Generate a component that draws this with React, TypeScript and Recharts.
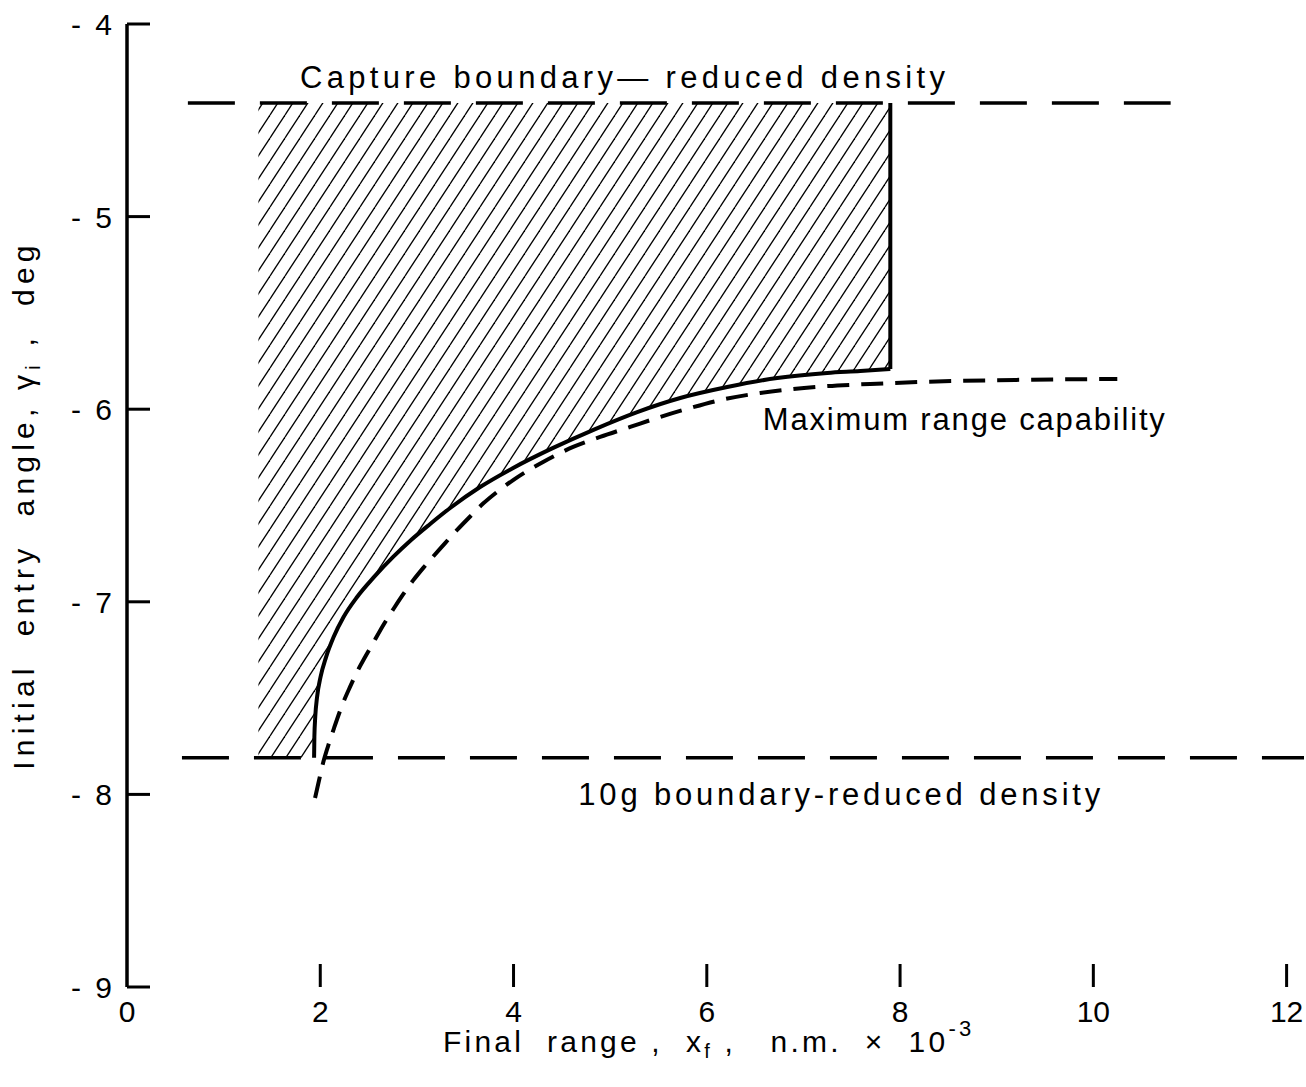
import { ComposedChart, Line, Area, XAxis, YAxis, ReferenceDot, Label } from "recharts";

const FONT = "'Liberation Sans', Arial, sans-serif";

const xTicks = [0, 2, 4, 6, 8, 10, 12];
const yTicks = [-9, -8, -7, -6, -5, -4];

// capture boundary, reduced density
const captureX = [0.63, 10.8];
const captureY = [-4.41, -4.41];

// 10g boundary, reduced density
const tenGX = [0.31, 12.18];
const tenGY = [-7.81, -7.81];

// shaded corridor
const corridorLeft = 1.36;
const corridorTop = -4.41;
const corridorBottom = -7.81;

// solid curve, lower edge of the corridor
const solidX = [
  1.936, 1.939, 1.948, 1.967, 2.003, 2.06, 2.138, 2.241, 2.381, 2.557, 2.754, 2.94, 3.137, 3.344, 3.654,
  3.996, 4.41, 4.845, 5.28, 5.725, 6.211, 6.729, 7.246, 7.588, 7.899,
];
const solidY = [
  -7.81, -7.702, -7.598, -7.494, -7.39, -7.287, -7.183, -7.079, -6.975, -6.871, -6.767, -6.679, -6.596, -6.513, -6.404,
  -6.305, -6.201, -6.103, -6.015, -5.942, -5.885, -5.838, -5.812, -5.802, -5.791,
];

// right edge of the corridor
const edgeX = [7.899, 7.899];
const edgeY = [-5.791, -4.41];

// maximum range capability
const maxRangeX = [
  1.946, 1.988, 2.029, 2.081, 2.143, 2.236, 2.308, 2.381, 2.464, 2.547, 2.65, 2.754, 2.857, 2.961, 3.064,
  3.168, 3.292, 3.416, 3.551, 3.685, 3.841, 3.996, 4.151, 4.306, 4.462, 4.617, 4.896, 5.207, 5.518, 5.859,
  6.19, 6.553, 6.894, 7.246, 7.692, 8.178, 9.193, 10.248,
];
const maxRangeY = [
  -8.019, -7.925, -7.837, -7.749, -7.655, -7.525, -7.442, -7.364, -7.287, -7.214, -7.123, -7.04, -6.962, -6.889, -6.825,
  -6.765, -6.695, -6.627, -6.557, -6.49, -6.425, -6.368, -6.318, -6.274, -6.233, -6.196, -6.144, -6.092, -6.04, -5.989,
  -5.947, -5.916, -5.895, -5.88, -5.869, -5.859, -5.848, -5.843,
];

const toPoints = (xs: number[], ys: number[]) => xs.map((x, i) => ({ x, y: ys[i] }));

const captureData = toPoints(captureX, captureY);
const tenGData = toPoints(tenGX, tenGY);
const solidData = toPoints(solidX, solidY);
const edgeData = toPoints(edgeX, edgeY);
const maxRangeData = toPoints(maxRangeX, maxRangeY);
const hatchData = [
  { x: corridorLeft, band: [corridorBottom, corridorTop] },
  ...solidX.map((x, i) => ({ x, band: [solidY[i], corridorTop] })),
];

const notes = [
  { text: "Capture boundary\u2014 reduced density", x: 1.79, y: -4.332, len: 645 },
  { text: "Maximum range capability", x: 6.58, y: -6.108, len: 402 },
  { text: "10g boundary-reduced density", x: 4.67, y: -8.055, len: 522 },
];

const XTick = (props: any) => {
  const { x, y, payload } = props;
  return (
    <g>
      {payload.value !== 0 && (
        <line x1={x} y1={y} x2={x} y2={y - 23} stroke="#000" strokeWidth={3} />
      )}
      <text x={x} y={y + 35} textAnchor="middle" fontSize={30} fontFamily={FONT} fill="#000">
        {payload.value}
      </text>
    </g>
  );
};

const YTick = (props: any) => {
  const { x, y, payload } = props;
  return (
    <g fontSize={30} fontFamily={FONT} fill="#000">
      <line x1={x} y1={y} x2={x + 23} y2={y} stroke="#000" strokeWidth={3} />
      <text x={x - 46} y={y + 11} textAnchor="end">-</text>
      <text x={x - 15} y={y + 11} textAnchor="end">{Math.abs(payload.value)}</text>
    </g>
  );
};

const XTitle = (props: any) => {
  const vb = props.viewBox;
  return (
    <text x={vb.x + 316} y={vb.y + 65} fontSize={30} fontFamily={FONT} fill="#000" letterSpacing={3.2} style={{ whiteSpace: "pre" }}>
      {"Final  range ,  x"}
      <tspan dy={6} fontSize={20}>f</tspan>
      <tspan dy={-6}>{" ,   n.m.  \u00d7  10"}</tspan>
      <tspan dy={-16} fontSize={22}>-3</tspan>
    </text>
  );
};

const YTitle = (props: any) => {
  const vb = props.viewBox;
  return (
    <text transform={`translate(${vb.x + 7}, ${vb.y + 481}) rotate(-90)`} textAnchor="middle" fontSize={30} fontFamily={FONT} fill="#000" letterSpacing={5.2} style={{ whiteSpace: "pre" }}>
      {"Initial  entry  angle, \u03b3"}
      <tspan dy={6} fontSize={20}>i</tspan>
      <tspan dy={-6}>{" ,  deg"}</tspan>
    </text>
  );
};

const noteLabel = (n: any) => (props: any) => {
  const vb = props.viewBox;
  return (
    <text x={vb.x} y={vb.y} fontSize={31} fontFamily={FONT} fill="#000" textLength={n.len} lengthAdjust="spacing">
      {n.text}
    </text>
  );
};

export default function App() {
  return (
    <div style={{ position: "absolute", left: 0, top: 0 }}>
      <ComposedChart width={1306} height={1080} margin={{ top: 24, right: 2, bottom: 13, left: 27 }}>
        <defs>
          <pattern id="hatch" patternUnits="userSpaceOnUse" width={15} height={23}>
            <line x1={0} y1={23} x2={15} y2={0} stroke="#000" strokeWidth={1.3} />
            <line x1={-15} y1={23} x2={0} y2={0} stroke="#000" strokeWidth={1.3} />
            <line x1={15} y1={23} x2={30} y2={0} stroke="#000" strokeWidth={1.3} />
          </pattern>
        </defs>
        <XAxis
          type="number"
          dataKey="x"
          domain={[0, 12.18]}
          ticks={xTicks}
          interval={0}
          allowDataOverflow
          axisLine={false}
          tickLine={false}
          tickSize={0}
          tickMargin={0}
          height={80}
          tick={XTick}
        >
          <Label content={XTitle} />
        </XAxis>
        <YAxis
          type="number"
          domain={[-9, -4]}
          ticks={yTicks}
          interval={0}
          allowDataOverflow
          width={100}
          axisLine={{ stroke: "#000", strokeWidth: 3.5 }}
          tickLine={false}
          tickSize={0}
          tickMargin={0}
          tick={YTick}
        >
          <Label content={YTitle} />
        </YAxis>
        <Area
          data={hatchData}
          dataKey="band"
          type="monotone"
          fill="url(#hatch)"
          fillOpacity={1}
          stroke="none"
          isAnimationActive={false}
          activeDot={false}
        />
        <Line data={captureData} dataKey="y" type="linear" stroke="#000" strokeWidth={3.5} strokeDasharray="47 25" dot={false} activeDot={false} isAnimationActive={false} />
        <Line data={tenGData} dataKey="y" type="linear" stroke="#000" strokeWidth={3.5} strokeDasharray="47 25" strokeDashoffset={47} dot={false} activeDot={false} isAnimationActive={false} />
        <Line data={maxRangeData} dataKey="y" type="monotone" stroke="#000" strokeWidth={4} strokeDasharray="22 12" dot={false} activeDot={false} isAnimationActive={false} />
        <Line data={solidData} dataKey="y" type="monotone" stroke="#000" strokeWidth={4} dot={false} activeDot={false} isAnimationActive={false} />
        <Line data={edgeData} dataKey="y" type="linear" stroke="#000" strokeWidth={4} dot={false} activeDot={false} isAnimationActive={false} />
        {notes.map((n) => (
          <ReferenceDot key={n.text} x={n.x} y={n.y} r={0} fill="none" stroke="none" label={{ content: noteLabel(n) }} />
        ))}
      </ComposedChart>
    </div>
  );
}
